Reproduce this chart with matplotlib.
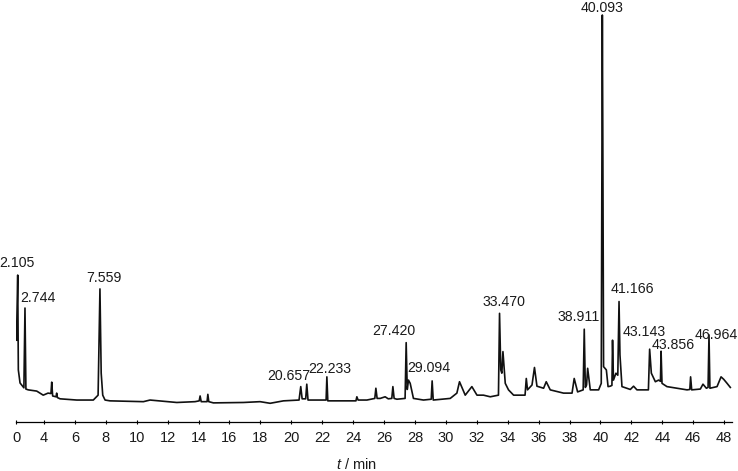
import numpy as np
import matplotlib
matplotlib.use("Agg")
import matplotlib.pyplot as plt

plt.rcParams['font.family'] = ['Liberation Sans', 'DejaVu Sans']
plt.rcParams['mathtext.fontset'] = 'custom'
plt.rcParams['mathtext.rm'] = 'Liberation Sans'
plt.rcParams['mathtext.it'] = 'Liberation Sans:italic'

# chromatogram trace (t in min, relative intensity)
t = [2.22, 2.30, 2.34, 2.45, 2.70, 2.77, 2.83, 2.98, 3.53, 3.95, 4.26, 4.45, 4.50, 4.56,
     4.78, 4.82, 4.87, 5.04, 6.12, 7.19, 7.50, 7.62, 7.70, 7.80, 7.95, 8.27, 10.43, 10.86,
     12.59, 13.77, 14.04, 14.10, 14.17, 14.55, 14.60, 14.66, 14.96, 16.90, 17.98, 18.63,
     19.49, 20.50, 20.61, 20.70, 20.93, 21.00, 21.08, 22.08, 22.25, 22.30, 22.36, 23.81,
     24.18, 24.24, 24.32, 24.89, 25.40, 25.47, 25.55, 25.75, 26.07, 26.27, 26.50, 26.57,
     26.65, 26.83, 27.36, 27.43, 27.50, 27.58, 27.69, 27.90, 28.55, 29.05, 29.11, 29.18,
     30.28, 30.71, 30.88, 31.25, 31.68, 32.01, 32.43, 32.87, 33.40, 33.47, 33.55, 33.62,
     33.69, 33.84, 34.05, 34.38, 35.12, 35.20, 35.28, 35.57, 35.73, 35.89, 36.32, 36.49,
     36.75, 37.61, 38.16, 38.30, 38.52, 38.88, 38.95, 39.02, 39.10, 39.17, 39.34, 39.88,
     40.05, 40.12, 40.15, 40.20, 40.38, 40.49, 40.63, 40.74, 40.78, 40.84, 41.00, 41.12,
     41.20, 41.26, 41.39, 41.93, 42.14, 42.36, 43.10, 43.18, 43.29, 43.55, 43.76, 43.88,
     43.92, 43.98, 44.30, 44.95, 45.60, 45.78, 45.83, 45.90, 46.46, 46.63, 46.85, 46.96,
     47.02, 47.08, 47.54, 47.80, 47.97, 48.19, 48.40]
inten = [20.1, 36.1, 12.8, 9.6, 8.4, 28.0, 8.1, 7.9, 7.6, 6.6, 7.1, 7.0, 9.8, 6.4,
         6.2, 7.1, 6.0, 5.7, 5.4, 5.4, 6.6, 32.7, 12.0, 6.6, 5.4, 5.2, 5.0, 5.4,
         4.8, 5.0, 5.2, 6.4, 5.0, 5.0, 6.8, 5.0, 4.7, 4.8, 5.0, 4.6,
         5.2, 5.4, 8.7, 5.7, 5.7, 9.3, 5.4, 5.4, 5.4, 11.1, 5.2, 5.2,
         5.2, 6.2, 5.4, 5.4, 5.8, 8.3, 5.8, 5.8, 6.2, 5.7, 5.8, 8.7,
         5.8, 5.6, 5.8, 19.5, 8.0, 10.3, 9.5, 5.8, 5.4, 5.6, 10.1, 5.4,
         5.8, 7.1, 9.9, 6.6, 8.7, 6.6, 6.6, 6.2, 6.6, 26.7, 12.8, 12.0,
         17.3, 9.5, 7.9, 6.6, 6.6, 10.7, 7.9, 9.1, 13.4, 8.8, 8.3, 9.9,
         7.9, 7.1, 7.1, 10.7, 7.4, 7.9, 22.8, 8.5, 9.1, 13.2, 7.9, 7.9,
         9.5, 100.0, 71.0, 13.6, 12.8, 8.7, 8.8, 9.0, 20.1, 10.3, 12.0, 11.5,
         29.6, 16.5, 8.7, 8.0, 8.8, 7.9, 7.9, 17.9, 12.0, 9.9, 10.3, 10.0,
         17.4, 9.5, 8.7, 8.3, 7.9, 8.0, 11.1, 7.9, 8.1, 9.3, 8.3, 8.5,
         21.4, 8.3, 8.7, 11.1, 10.5, 9.5, 8.5]

# peak labels and where they sit (centre, text baseline)
peak_labels = ["2.105", "2.744", "7.559", "20.657", "22.233", "27.420", "29.094",
               "33.470", "38.911", "40.093", "41.166", "43.143", "43.856", "46.964"]
label_t = [2.25, 3.63, 7.88, 19.86, 22.51, 26.65, 28.89,
           33.74, 38.56, 40.12, 42.06, 42.80, 44.68, 47.52]
label_y = [38.1, 29.5, 34.4, 10.3, 12.0, 21.4, 12.3,
           28.5, 24.8, 100.7, 31.7, 21.1, 17.9, 20.4]

tick_pos = [2.19] + list(range(4, 49, 2))
tick_lab = ["0"] + [str(v) for v in range(4, 49, 2)]

fig = plt.figure(figsize=(7.38, 4.71), dpi=100)
ax = fig.add_axes([0.0217, 0.104, 0.970, 0.896])

ax.plot(t, inten, color="#111111", lw=1.2)

for s, x, y in zip(peak_labels, label_t, label_y):
    ax.text(x, y, s, ha="center", va="baseline", fontsize=10.2, color="#1a1a1a", clip_on=False)

ax.set_xlim(2.19, 48.5)
ax.set_ylim(0, 103.7)
ax.set_xticks(tick_pos)
ax.set_xticklabels(tick_lab, fontsize=10.5, color="#1a1a1a")
ax.tick_params(axis="x", direction="inout", length=3, width=0.8, pad=5)
ax.set_yticks([])
for side in ["left", "right", "top"]:
    ax.spines[side].set_visible(False)
ax.spines["bottom"].set_linewidth(0.9)

ax.set_xlabel("$t$ / min", fontsize=10.5, color="#1a1a1a")
ax.xaxis.set_label_coords(0.475, -0.083)

fig.savefig("out.png", dpi=100)
